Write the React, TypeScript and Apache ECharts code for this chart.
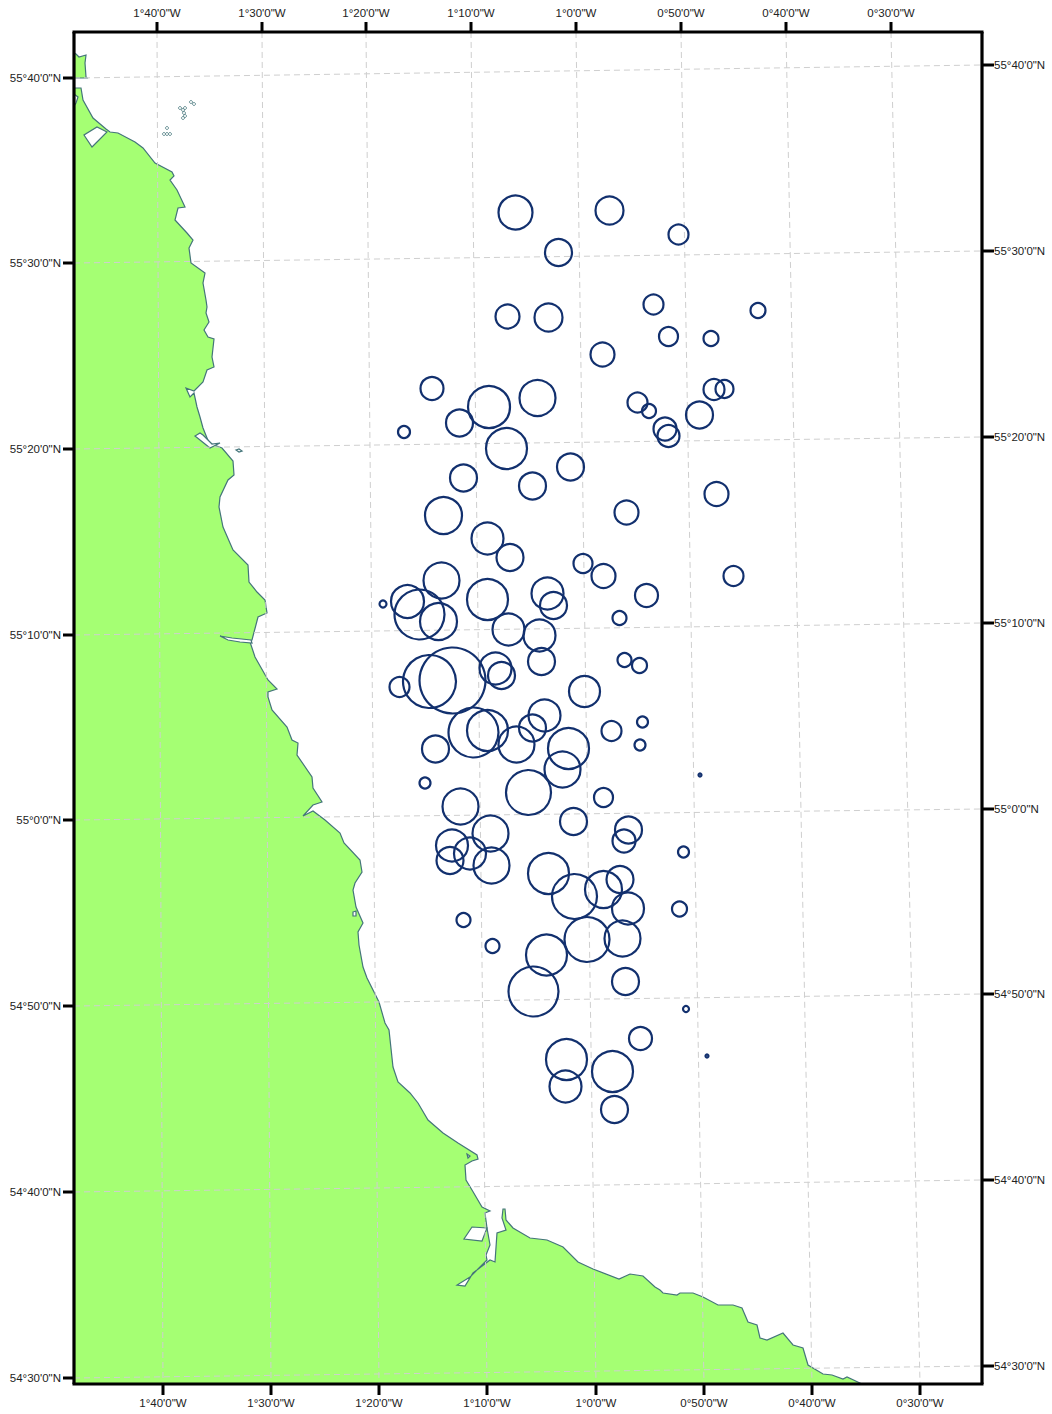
import React, { useEffect, useRef } from "react";
import * as echarts from "echarts";

type P = [number, number];

// Map coordinates of the sheet (frame: x 74-982, y 32-1384)
const stations: [number, number, number][] = [
  [515.5,212.5,34],[609.5,210.5,28],[678.5,234.5,20],[558.5,252.5,27],[653.5,304.5,20],[507.5,316.5,24],[548.5,317.5,28],[758,310.5,15],
  [668.5,336.5,19],[711,338.5,15],[602.5,354.5,24],[432,388.5,23],[714,389.5,21],[724.5,389,18],[489,407,42],[537.5,398,36],
  [637.5,402.5,20],[649,411,14],[699.5,415,27],[459.5,423,27],[665,429,23],[668.5,436,22],[404,432,12],[506.5,448.5,41],
  [570.5,467,27],[463.5,478,27],[532.5,486,27],[716.5,494,24],[443.5,515.5,37],[626.5,512.5,24],[487.5,538.5,32],[510,557.5,27],
  [583,563.5,19],[603.5,576,24],[733.5,576,20],[441.5,580.5,36],[407.5,601.5,33],[383,604,7],[419.5,614.5,50],[438.5,621.5,37],
  [487.5,599.5,41],[547.5,593.5,32],[553.5,605.5,27],[646.5,595.5,23],[619.5,618,14],[508.5,629.5,32],[539.5,635.5,32],[541.5,661.5,27],
  [624.5,660,14],[639.5,665.5,15],[399.5,687,20],[429.5,681.5,53],[452.5,680.5,66],[495.5,668.5,32],[501.5,675.5,27],[584.5,691.5,31],
  [544.5,715.5,32],[642.5,722,11],[532.5,728,27],[611.5,731,20],[473.5,732.5,50],[487.5,730.5,41],[516.5,744.5,36],[568.5,748.5,41],
  [640,745,11],[435.5,749,27],[562.5,769.5,36],[425,783,11],[700,775,3],[528.5,792.5,45],[603.5,797.5,19],[460.5,806.5,36],
  [573.5,821.5,27],[628.5,830,27],[624,841,23],[490.5,833.5,36],[683.5,852,11],[452,845.5,32],[450,860.5,27],[470,853.5,32],
  [491.5,865.5,36],[548.5,873.5,41],[620,879.5,27],[603.5,889.5,37],[574.5,896.5,45],[628,908.5,32],[679.5,909,15],[463.5,920,14],
  [622.5,938.5,36],[587,939.5,45],[492.5,946,14],[546.5,955,41],[625.5,981.5,27],[533.5,991.5,50],[686,1009,6],[640.5,1038.5,23],
  [707,1056,3],[566.5,1059.5,41],[612.5,1071.5,41],[565.5,1086.5,32],[614.5,1109.5,27],
];

const mainland: P[] = [
  [74,88],[81,88],[83,100],[93,118],[106,129],[110,132],[118,133],[135,142],[143,148],[155,163],[172,172],[174,176],
  [170,180],[177,190],[185,207],[178,208],[175,220],[187,233],[193,240],[189,248],[191,263],[205,273],[203,283],
  [206,300],[207,307],[206,313],[209,322],[204,330],[208,337],[214,339],[212,357],[214,367],[207,370],[203,382],
  [194,391],[186,388],[190,397],[194,393],[197,407],[200,417],[203,428],[209,443],[222,448],[233,461],[234,475],
  [228,480],[220,497],[219,507],[223,527],[233,550],[248,565],[249,582],[257,592],[265,600],[267,613],[258,617],
  [252,640],[250,642],[255,657],[268,680],[277,689],[268,692],[268,697],[272,710],[287,727],[292,740],[298,743],
  [297,755],[312,777],[313,788],[322,802],[313,805],[303,816],[313,811],[325,820],[340,833],[344,843],[360,860],
  [362,872],[355,883],[353,890],[356,907],[363,923],[358,932],[359,945],[363,967],[367,978],[379,1002],[385,1023],
  [389,1030],[393,1067],[398,1082],[410,1093],[418,1103],[428,1120],[443,1133],[458,1143],[477,1155],[478,1159],
  [472,1161],[465,1165],[466,1180],[472,1190],[482,1207],[490,1211],[485,1213],[487,1228],[490,1245],[486,1255],
  [487,1260],[470,1277],[457,1285],[465,1286],[473,1273],[490,1260],[495,1262],[497,1233],[506,1230],[502,1218],
  [503,1209],[505,1209],[506,1220],[513,1228],[530,1238],[547,1240],[563,1247],[578,1262],[593,1269],[619,1279],
  [630,1274],[643,1276],[655,1287],[660,1290],[663,1293],[677,1295],[680,1293],[693,1293],[703,1297],[718,1305],
  [733,1305],[742,1308],[748,1322],[757,1325],[760,1338],[767,1340],[783,1333],[793,1345],[803,1348],[808,1365],
  [823,1374],[832,1375],[843,1379],[847,1377],[862,1384],[74,1384],
];
const northHeadland: P[] = [[74,53],[76,54],[79,57],[86,55],[85,63],[86,77],[87,78],[74,78]];
const waters: P[][] = [
  [[107,132],[97,127],[84,135],[92,147],[97,142]],
  [[74,94],[78,97],[76,103],[74,106]],
  [[195,436],[205,444],[210,448],[220,443],[212,444],[203,435],[200,433]],
  [[220,636],[232,638],[251,640],[252,643],[240,642],[228,640]],
  [[353,912],[356,911],[356,916],[353,916]],
  [[467,1154],[470,1156],[468,1158]],
  [[472,1227],[487,1228],[482,1241],[464,1239]],
];
const islets: P[] = [
  [167,128],[164,134],[167,134],[170,134],[180,108],[183,110],[185,108],[184,113],[183,118],[185,116],[191,102],[194,104],
];
const smallIsland: P[] = [[236,450],[239,449],[242,451],[239,452]];

const meridians: [P, P][] = [
  [[157,32],[163,1384]],[[262,32],[271,1384]],[[366,32],[379,1384]],[[471,32],[487,1384]],
  [[576,32],[596,1384]],[[681,32],[704,1384]],[[786,32],[812,1384]],[[891,32],[920,1384]],
];
const parallels: [P, P][] = [
  [[74,78],[982,65]],[[74,263],[982,251]],[[74,449],[982,437]],[[74,635],[982,623]],
  [[74,820],[982,809]],[[74,1006],[982,994]],[[74,1192],[982,1180]],[[74,1378],[982,1366]],
];
const lonLabels = ["1°40'0\"W","1°30'0\"W","1°20'0\"W","1°10'0\"W","1°0'0\"W","0°50'0\"W","0°40'0\"W","0°30'0\"W"];
const latLabels = ["55°40'0\"N","55°30'0\"N","55°20'0\"N","55°10'0\"N","55°0'0\"N","54°50'0\"N","54°40'0\"N","54°30'0\"N"];

const FONT = "'Liberation Sans', Arial, sans-serif";
const LAND = "#a5ff73";
const COAST = "#44757a";
const RING = "#12306e";

function polySeries(polys: P[][], fill: string, z: number, stroke = COAST, lw = 1.2) {
  return {
    type: "custom", coordinateSystem: "cartesian2d", z, silent: true, clip: false,
    data: polys.map((_, i) => [i, i]),
    renderItem: (p: any, api: any) => ({
      type: "polygon",
      shape: { points: polys[p.dataIndex].map((c) => api.coord(c)) },
      style: { fill, stroke, lineWidth: lw },
    }),
  };
}

function segSeries(segs: [P, P][], z: number, stroke: string, lw: number, dash?: number[]) {
  return {
    type: "custom", coordinateSystem: "cartesian2d", z, silent: true, clip: false,
    data: segs.map((_, i) => [i, i]),
    renderItem: (p: any, api: any) => {
      const a = api.coord(segs[p.dataIndex][0]);
      const b = api.coord(segs[p.dataIndex][1]);
      return {
        type: "line",
        shape: { x1: a[0], y1: a[1], x2: b[0], y2: b[1] },
        style: { stroke, lineWidth: lw, lineDash: dash, fill: null },
      };
    },
  };
}

function labelSeries(items: { t: string; at: P; align: string }[]) {
  return {
    type: "custom", coordinateSystem: "cartesian2d", z: 20, silent: true, clip: false,
    data: items.map((_, i) => [i, i]),
    renderItem: (p: any, api: any) => {
      const it = items[p.dataIndex];
      const c = api.coord(it.at);
      return {
        type: "text",
        style: {
          text: it.t, x: c[0], y: c[1], align: it.align, verticalAlign: "middle",
          fontFamily: FONT, fontSize: 11.5, fill: "#222222",
        },
      };
    },
  };
}

export default function App() {
  const ref = useRef<HTMLDivElement>(null);
  useEffect(() => {
    const chart = echarts.init(ref.current!, null, { renderer: "svg" });
    const topX = meridians.map((m) => m[0][0]);
    const botX = meridians.map((m) => m[1][0]);
    const leftY = parallels.map((m) => m[0][1]);
    const rightY = parallels.map((m) => m[1][1]);
    const ticks: [P, P][] = [
      ...topX.map((x) => [[x, 32], [x, 22]] as [P, P]),
      ...botX.map((x) => [[x, 1384], [x, 1395]] as [P, P]),
      ...leftY.map((y) => [[74, y], [63, y]] as [P, P]),
      ...rightY.map((y) => [[982, y], [994, y]] as [P, P]),
    ];
    const frame: [P, P][] = [
      [[72.5, 32], [983.5, 32]], [[982, 32], [982, 1384]], [[983.5, 1384], [72.5, 1384]], [[74, 1384], [74, 32]],
    ];
    const labels = [
      ...lonLabels.map((t, i) => ({ t, at: [topX[i], 13] as P, align: "center" })),
      ...lonLabels.map((t, i) => ({ t, at: [botX[i], 1403] as P, align: "center" })),
      ...latLabels.map((t, i) => ({ t, at: [61, leftY[i]] as P, align: "right" })),
      ...latLabels.map((t, i) => ({ t, at: [994, rightY[i]] as P, align: "left" })),
    ];
    chart.setOption({
      animation: false,
      backgroundColor: "#ffffff",
      grid: { left: 74, top: 32, width: 908, height: 1352, show: false },
      xAxis: { type: "value", min: 74, max: 982, show: false },
      yAxis: { type: "value", min: 32, max: 1384, inverse: true, show: false },
      series: [
        polySeries([mainland, northHeadland], LAND, 2),
        polySeries(waters, "#ffffff", 3),
        polySeries([smallIsland], "#ffffff", 3),
        {
          type: "scatter", z: 4, silent: true, symbol: "circle", symbolSize: 3,
          data: islets,
          itemStyle: { color: "#ffffff", borderColor: COAST, borderWidth: 1 },
        },
        segSeries([...meridians, ...parallels], 5, "#cfcfcf", 1, [6, 4]),
        {
          type: "scatter", z: 6, silent: true, symbol: "circle",
          data: stations.map((s) => [s[0], s[1], s[2]]),
          symbolSize: (v: number[]) => v[2],
          itemStyle: { color: "rgba(0,0,0,0)", borderColor: RING, borderWidth: 2.2, opacity: 1 },
        },
        segSeries(ticks, 19, "#000000", 3),
        segSeries(frame, 19, "#000000", 3.2),
        labelSeries(labels),
      ],
    });
    return () => chart.dispose();
  }, []);
  return (
    <div
      ref={ref}
      style={{ position: "absolute", left: 0, top: 0, width: 1052, height: 1414, background: "#fff" }}
    />
  );
}
